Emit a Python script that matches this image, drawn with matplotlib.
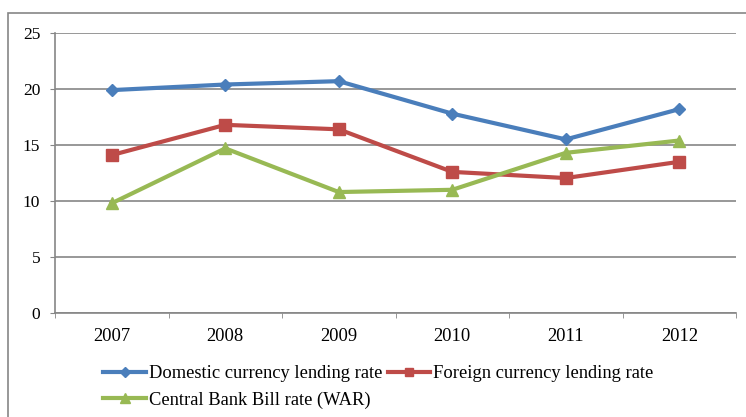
import matplotlib
matplotlib.use("Agg")
import matplotlib.pyplot as plt
from matplotlib.patches import Rectangle

years = ["2007", "2008", "2009", "2010", "2011", "2012"]
domestic = [19.9, 20.4, 20.7, 17.8, 15.5, 18.2]
foreign = [14.1, 16.8, 16.4, 12.6, 12.05, 13.5]
cbb_war = [9.8, 14.7, 10.8, 11.0, 14.3, 15.4]

plt.rcParams["font.family"] = ["Liberation Serif", "DejaVu Serif"]
grey = "#868686"

fig = plt.figure(figsize=(7.46, 4.17), dpi=100)
# outer chart frame (runs off the right and bottom edges)
fig.patches.append(Rectangle((8 / 746, -0.05), 1.0, 1 - 13 / 417 + 0.05,
                             transform=fig.transFigure, fill=False,
                             edgecolor=grey, linewidth=1.2))

ax = fig.add_axes([55 / 746, 104 / 417, 681 / 746, 280 / 417])
x = list(range(len(years)))

l1, = ax.plot(x, domestic, color="#4a7ebb", lw=3, marker="D", ms=6.5,
              label="Domestic currency lending rate")
l2, = ax.plot(x, foreign, color="#be4b48", lw=3, marker="s", ms=8,
              label="Foreign currency lending rate")
l3, = ax.plot(x, cbb_war, color="#98b954", lw=3, marker="^", ms=9,
              label="Central Bank Bill rate (WAR)")

ax.set_xlim(-0.5, len(years) - 0.5)
ax.set_ylim(0, 25)
ax.set_yticks(range(0, 26, 5))
ax.set_xticks(x)
ax.set_xticklabels(years)
ax.set_xticks([i - 0.5 for i in range(len(years) + 1)], minor=True)
ax.tick_params(axis="x", which="major", length=0, pad=11, labelsize=13.3)
ax.tick_params(axis="x", which="minor", length=3.6, color=grey, direction="out")
ax.tick_params(axis="y", length=3.6, color=grey, labelsize=12.5, pad=7)

ax.grid(axis="y", color=grey, lw=1.2)
ax.set_axisbelow(True)
for side in ("top", "right"):
    ax.spines[side].set_visible(False)
for side in ("left", "bottom"):
    ax.spines[side].set_color(grey)
    ax.spines[side].set_linewidth(1.2)

fig.legend([l1, l3, l2], [l1.get_label(), l3.get_label(), l2.get_label()],
           ncol=2, loc="upper left", bbox_to_anchor=(96 / 746, 1 - 358 / 417),
           frameon=False, fontsize=13.3, handlelength=2.3, handletextpad=0.15,
           columnspacing=0.3, labelspacing=0.48, borderaxespad=0,
           markerscale=0.75)

fig.savefig("out.png", dpi=100)
